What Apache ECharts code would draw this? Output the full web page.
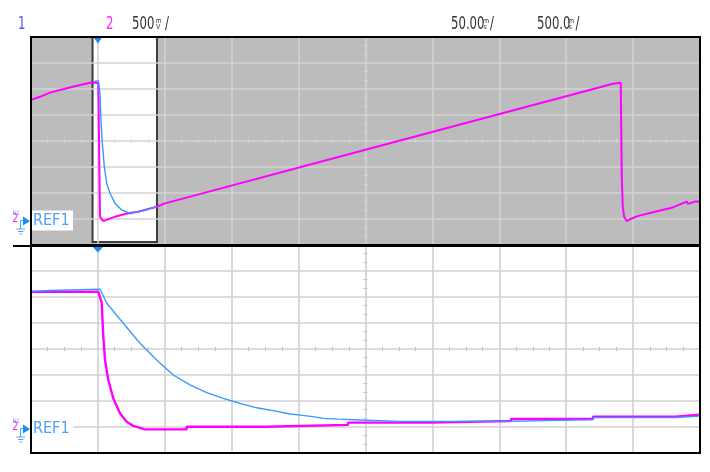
<!DOCTYPE html>
<html><head><meta charset="utf-8">
<script src="https://cdn.jsdelivr.net/npm/echarts@6/dist/echarts.min.js"></script>
<style>html,body{margin:0;padding:0;background:#fff}#c{width:710px;height:472px}</style>
</head><body><div id="c"></div><script>
// All values in screen divisions: x from -5 to 5 (10 div), y from -4 to 4 (8 div)
const xDivs = [-5, 5];
const yDivs = [-4, 4];

// Main (upper) view: channel 2 (magenta) sawtooth
const mainCh2 = [[-5,1.58],[-4.865,1.70],[-4.716,1.86],[-4.466,2.03],[-4.218,2.18],[-4.103,2.25],[-3.994,2.23],
  [-3.969,-2.91],[-3.919,-3.08],[-3.894,-3.04],[-3.744,-2.91],[-3.595,-2.81],[-3.396,-2.72],[-3.121,-2.53],
  [-2.997,-2.40],[0.0,-0.34],[3.70,2.20],[3.815,2.24],[3.83,-1.31],[3.845,-2.50],[3.864,-2.91],[3.904,-3.08],
  [3.954,-3.01],[4.078,-2.88],[4.327,-2.72],[4.577,-2.57],[4.801,-2.33],[4.82,-2.42],[4.925,-2.33],[5,-2.33]];
// Main view: REF1 (blue), only over the zoom window
const mainRef1 = [[-4.06,2.28],[-3.994,2.32],[-3.969,1.83],[-3.954,0.81],[-3.934,-0.09],[-3.904,-0.99],
  [-3.868,-1.63],[-3.819,-2.01],[-3.744,-2.40],[-3.644,-2.65],[-3.546,-2.76],[-3.396,-2.72],[-3.121,-2.53]];

// Zoomed (lower) view
const zoomCh2 = [[-5,2.20],[-3.994,2.20],[-3.943,1.77],[-3.919,0.47],[-3.894,-0.42],[-3.845,-1.19],[-3.770,-1.90],
  [-3.670,-2.47],[-3.570,-2.80],[-3.471,-2.96],[-3.296,-3.09],[-2.673,-3.09],[-2.673,-2.99],[-1.502,-2.99],
  [-1.502,-2.92],[-0.262,-2.92],[-0.262,-2.83],[0.964,-2.83],[0.964,-2.77],[2.175,-2.77],[2.175,-2.69],
  [3.40,-2.69],[3.40,-2.60],[4.626,-2.60],[4.626,-2.53],[5,-2.53]];
const zoomRef1 = [[-5,2.21],[-4.716,2.25],[-3.969,2.30],[-3.920,2.05],[-3.868,1.76],[-3.620,0.99],[-3.371,0.22],[-3.121,-0.42],
  [-2.873,-1.00],[-2.623,-1.38],[-2.374,-1.68],[-2.126,-1.90],[-1.876,-2.09],[-1.626,-2.26],[-1.378,-2.37],
  [-1.129,-2.50],[-0.979,-2.54],[-0.785,-2.60],[-0.635,-2.67],[-0.411,-2.70],[-0.082,-2.73],[0.516,-2.78],
  [2.175,-2.78],[2.175,-2.72],[3.40,-2.72],[3.40,-2.64],[4.626,-2.64],[4.626,-2.58],[5,-2.58]];

const zoomWindowX = [-4.08, -3.117];
const zoomWindowBottom = -3.88;
const triggerX = -4;

const headerTexts = [
  {t:'1', x:18, c:'#5050ff'},
  {t:'2', x:106, c:'#ff30ff'},
  {t:'500', x:132, c:'#333', u:['m','V'], ux:155.5, sx:165},
  {t:'50.00', x:451, c:'#333', u:['m','s'], ux:483, sx:490},
  {t:'500.0', x:537, c:'#333', u:['m','s'], ux:568, sx:575.5}
];
const refLabel = 'REF1';

const FONT = "'DejaVu Sans Condensed','Liberation Sans Narrow','DejaVu Sans',sans-serif";
const MAG = '#ff00ff', BLUE = '#3399ff', REFC = '#4da3f2';

const panels = [
  {top:37, bg:'#bcbcbc', grid:'#d3d3d3', tick:'#d6d6d6'},
  {top:245, bg:'#ffffff', grid:'#d0d0d0', tick:'#c4c4c4'}
];
const L = 31, W = 669, H = 208;

const xAxis = [], yAxis = [];
panels.forEach((p, g) => {
  const b = g * 3;
  xAxis.push({type:'value', gridIndex:g, min:xDivs[0], max:xDivs[1], interval:1, z:2,
    axisLine:{show:false, onZero:false}, axisTick:{show:false}, axisLabel:{show:false},
    splitLine:{show:true, showMinLine:false, showMaxLine:false, lineStyle:{color:p.grid, width:1.6}}});
  yAxis.push({type:'value', gridIndex:g, min:yDivs[0], max:yDivs[1], interval:1, z:2,
    axisLine:{show:false, onZero:false}, axisTick:{show:false}, axisLabel:{show:false},
    splitLine:{show:true, showMinLine:false, showMaxLine:false, lineStyle:{color:p.grid, width:1.6}}});
  [true, false].forEach((inside, k) => {
    const idx = b + 1 + k;
    xAxis.push({type:'value', gridIndex:g, min:xDivs[0], max:xDivs[1], interval:1, z:2,
      axisLine:{show:false, onZero:true, onZeroAxisIndex:idx}, axisTick:{show:false, inside:inside},
      axisLabel:{show:false}, splitLine:{show:false},
      minorTick:{show:true, splitNumber:4, length:2, lineStyle:{color:p.tick, width:1}}});
    yAxis.push({type:'value', gridIndex:g, min:yDivs[0], max:yDivs[1], interval:1, z:2,
      axisLine:{show:false, onZero:true, onZeroAxisIndex:idx}, axisTick:{show:false, inside:inside},
      axisLabel:{show:false}, splitLine:{show:false},
      minorTick:{show:true, splitNumber:3, length:2, lineStyle:{color:p.tick, width:1}}});
  });
});

function trace(data, color, width, g, mp) {
  const s = {type:'line', xAxisIndex:g*3, yAxisIndex:g*3, data:data, showSymbol:false, symbol:'none',
    silent:true, z:3, lineStyle:{color:color, width:width}, itemStyle:{color:color}};
  if (mp) s.markPoint = mp;
  return s;
}
function trigger(offY, size) {
  return {silent:true, symbol:'triangle', symbolRotate:180, symbolSize:size, symbolOffset:[0, offY],
    itemStyle:{color:'#1a8cf0'}, label:{show:false}, data:[{coord:[triggerX, yDivs[1]]}]};
}

const series = [
  {type:'line', xAxisIndex:0, yAxisIndex:0, data:[], silent:true, z:1,
    markArea:{silent:true, z:1, itemStyle:{color:'#ffffff', borderColor:'#3c3c3c', borderWidth:2},
      data:[[{xAxis:zoomWindowX[0], yAxis:zoomWindowBottom},{xAxis:zoomWindowX[1], yAxis:yDivs[1]}]]}},
  trace(mainCh2, MAG, 2, 0, trigger(3, [10,7])),
  trace(mainRef1, BLUE, 1.4, 0),
  trace(zoomCh2, MAG, 2.4, 1, trigger(4.5, [11,6])),
  trace(zoomRef1, BLUE, 1.3, 1)
];

function txt(t, x, y, color, size, sy, z) {
  return {type:'text', x:x, y:y, scaleY:sy || 1, silent:true, z:z || 60,
    style:{text:t, x:0, y:0, fill:color, fontSize:size, fontFamily:FONT, verticalAlign:'middle', align:'left'}};
}

const graphic = [];
panels.forEach(p => {
  graphic.push({type:'rect', silent:true, z:50, shape:{x:L, y:p.top, width:W, height:H},
    style:{fill:'none', stroke:'#000', lineWidth:2}});
});
graphic.push({type:'line', silent:true, z:51, shape:{x1:13, y1:246, x2:L+W, y2:246}, style:{stroke:'#000', lineWidth:2}});

headerTexts.forEach(h => {
  graphic.push(txt(h.t, h.x, 24.5, h.c, 13, 1.35));
  if (h.u) {
    graphic.push(txt(h.u[0], h.ux, 21, h.c, 7, 1));
    graphic.push(txt(h.u[1], h.ux + 0.5, 27.5, h.c, 7, 1));
    graphic.push(txt('/', h.sx, 24.5, h.c, 13, 1.35));
  }
});

function refIcon(yc) {
  graphic.push({type:'rect', silent:true, z:55, shape:{x:32, y:yc - 10, width:41, height:20}, style:{fill:'#fff'}});
  graphic.push(txt(refLabel, 33, yc, REFC, 16, 1, 60));
  graphic.push(txt('R1', 12.5, yc - 7, REFC, 6, 1, 61));
  graphic.push(txt('2', 12.5, yc - 1, '#ff22ff', 10, 1.15, 61));
  graphic.push({type:'polygon', silent:true, z:61, shape:{points:[[23, yc - 4], [30, yc + 0.5], [23, yc + 5]]}, style:{fill:'#1a8cf0'}});
  const gl = {stroke:REFC, lineWidth:1};
  graphic.push({type:'line', silent:true, z:61, shape:{x1:20.5, y1:yc, x2:23, y2:yc}, style:gl});
  graphic.push({type:'line', silent:true, z:61, shape:{x1:20.5, y1:yc, x2:20.5, y2:yc + 8.5}, style:gl});
  graphic.push({type:'line', silent:true, z:61, shape:{x1:16.5, y1:yc + 8.5, x2:25, y2:yc + 8.5}, style:gl});
  graphic.push({type:'line', silent:true, z:61, shape:{x1:18, y1:yc + 11, x2:23.5, y2:yc + 11}, style:gl});
  graphic.push({type:'line', silent:true, z:61, shape:{x1:19.5, y1:yc + 13.5, x2:22, y2:yc + 13.5}, style:gl});
}
refIcon(220.5);
refIcon(428.5);

const chart = echarts.init(document.getElementById('c'), null, {renderer:'canvas'});
chart.setOption({
  animation:false,
  backgroundColor:'#ffffff',
  grid:panels.map(p => ({left:L, top:p.top, width:W, height:H, show:true, backgroundColor:p.bg, borderWidth:0})),
  xAxis:xAxis, yAxis:yAxis, series:series, graphic:graphic
});
</script></body></html>
